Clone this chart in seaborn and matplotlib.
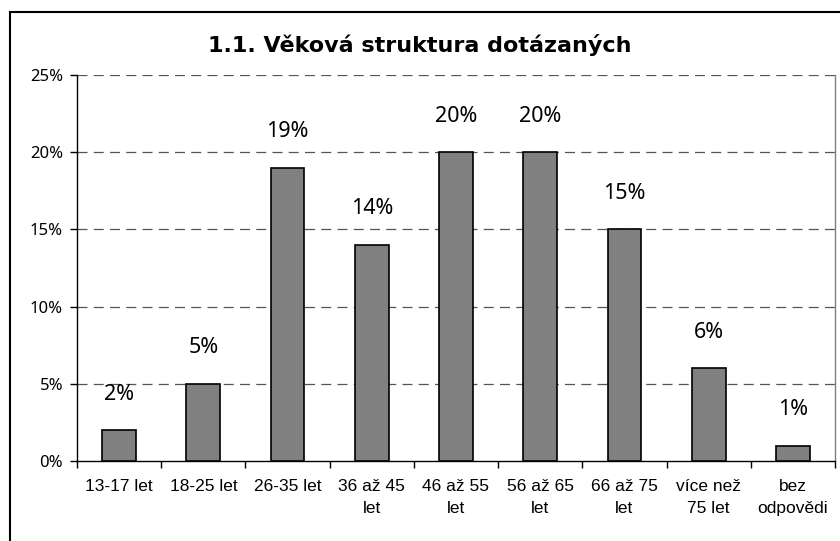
import matplotlib
matplotlib.use("Agg")
import matplotlib.pyplot as plt
import seaborn as sns
import pandas as pd
import numpy as np
from matplotlib.patches import Rectangle
from matplotlib.ticker import FixedLocator, NullFormatter

categories = ["13-17 let", "18-25 let", "26-35 let", "36 až 45\nlet", "46 až 55\nlet",
              "56 až 65\nlet", "66 až 75\nlet", "více než\n75 let", "bez\nodpovědi"]
values = [2, 5, 19, 14, 20, 20, 15, 6, 1]
y_ticks = [0, 5, 10, 15, 20, 25]
title = "1.1. Věková struktura dotázaných"

sns.set_theme(style="white")
plt.rcParams['font.family'] = ['DejaVu Sans']
plt.rcParams['text.color'] = 'black'
plt.rcParams['xtick.color'] = 'black'
plt.rcParams['ytick.color'] = 'black'

df = pd.DataFrame({"cat": categories, "val": values})

fig = plt.figure(figsize=(8.4, 5.41), dpi=100)
ax = fig.add_axes([77/840, 1-461/541, (835-77)/840, (461-75)/541])

sns.barplot(data=df, x="cat", y="val", color="#808080", saturation=1,
            width=0.4, edgecolor="black", linewidth=1.2, ax=ax, zorder=3)

ax.set_xlim(-0.5, len(categories)-0.5)
ax.set_ylim(0, 25)
ax.set_yticks(y_ticks)
ax.set_yticklabels([f"{t}%" for t in y_ticks], fontfamily="Noto Sans", fontsize=12)
for t in y_ticks[1:]:
    ax.axhline(t, color="#555555", linestyle=(0, (8, 5)), linewidth=0.9, zorder=1)

ax.set_xticks(range(len(categories)))
ax.set_xticklabels(categories, fontfamily="Liberation Sans", fontsize=12.5, linespacing=1.6,
                   va="top")
ax.tick_params(axis="x", length=0, pad=13)
ax.xaxis.set_minor_locator(FixedLocator(np.arange(-0.5, len(categories), 1.0)))
ax.xaxis.set_minor_formatter(NullFormatter())
ax.tick_params(axis="x", which="minor", length=5, direction="out", color="black", width=1, bottom=True)
ax.tick_params(axis="y", length=5, direction="out", color="black", width=1, left=True, pad=5)

ax.set_xlabel("")
ax.set_ylabel("")
for s in ["left", "bottom"]:
    ax.spines[s].set_color("black")
    ax.spines[s].set_linewidth(1)
ax.spines["top"].set_visible(False)
ax.spines["right"].set_color("#808080")
ax.spines["right"].set_linewidth(1)

for i, v in enumerate(values):
    ax.annotate(f"{v}%", (i, v), xytext=(0, 26), textcoords="offset points",
                ha="center", va="center", fontsize=15.5, fontfamily="Noto Sans", color="black")

fig.text(0.5, 1-45/541, title, ha="center", va="center", fontsize=16, fontweight="bold",
         color="black")

fig.patches.append(Rectangle((10/840, -0.05), 1.0, 1-12/541+0.05, transform=fig.transFigure,
                             fill=False, edgecolor="black", linewidth=1.5, clip_on=False))

fig.savefig("out.png", dpi=100)
